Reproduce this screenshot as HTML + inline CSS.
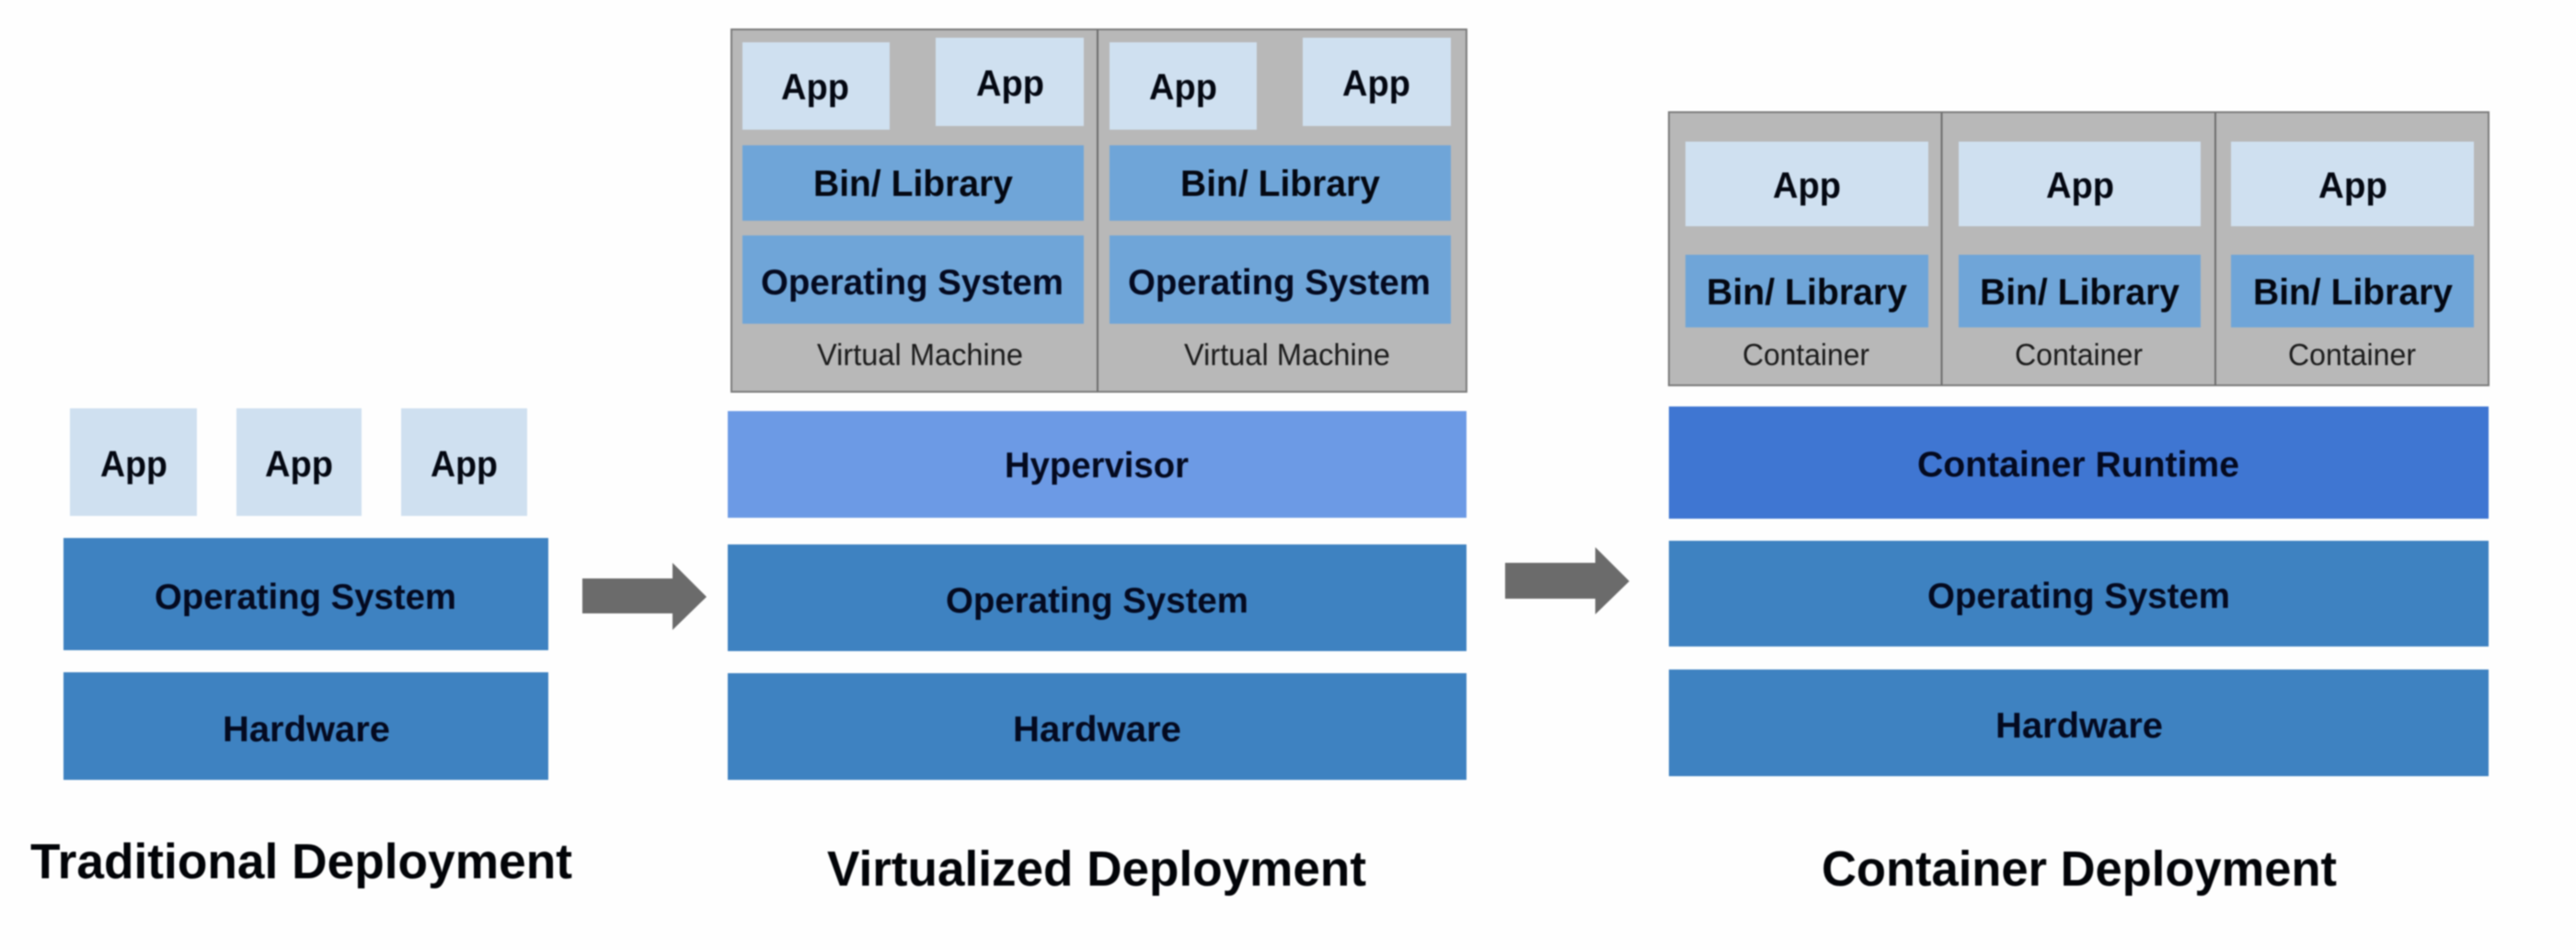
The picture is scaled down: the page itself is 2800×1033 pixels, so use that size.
<!DOCTYPE html>
<html lang="en">
<head>
<meta charset="utf-8">
<title>Deployment evolution</title>
<style>
html,body{margin:0;padding:0;background:#fefefe;width:2800px;height:1033px;overflow:hidden}
svg{display:block;filter:blur(.7px)}
text{font-family:"Liberation Sans",sans-serif;font-weight:700;fill:#040a20;font-size:39px}
.t{font-size:54px;fill:#020408}
.a{font-size:40px;fill:#040812}
.l{font-size:33px;font-weight:400;fill:#1c1c1c}
.app{fill:#cfe0f0}.bin{fill:#6fa5d8}.os{fill:#3e82c1}.box{fill:#b8b8b8;stroke:#7c7c7c;stroke-width:2}
.div{stroke:#6e6e6e;stroke-width:2}
</style>
</head>
<body>
<svg width="2800" height="1033" viewBox="0 0 2800 1033" xmlns="http://www.w3.org/2000/svg">
<rect width="2800" height="1033" fill="#fefefe"/>

<!-- Traditional -->
<rect class="app" x="76" y="444" width="138" height="117"/>
<rect class="app" x="257" y="444" width="136" height="117"/>
<rect class="app" x="436" y="444" width="137" height="117"/>
<text class="a" x="109" y="518" textLength="73" lengthAdjust="spacingAndGlyphs">App</text>
<text class="a" x="288" y="518" textLength="74" lengthAdjust="spacingAndGlyphs">App</text>
<text class="a" x="468" y="518" textLength="73" lengthAdjust="spacingAndGlyphs">App</text>
<rect class="os" x="69" y="585" width="527" height="122"/>
<text x="168" y="662" textLength="328" lengthAdjust="spacingAndGlyphs">Operating System</text>
<rect class="os" x="69" y="731" width="527" height="117"/>
<text x="242" y="806" textLength="182" lengthAdjust="spacingAndGlyphs">Hardware</text>
<text class="t" x="33" y="955" textLength="589" lengthAdjust="spacingAndGlyphs">Traditional Deployment</text>

<!-- Arrow 1 -->
<polygon points="633,629 731,629 731,612 768,649 731,685 731,667 633,667" fill="#6b6b6b"/>

<!-- Virtualized -->
<rect class="box" x="795" y="32" width="799" height="394"/>
<line class="div" x1="1193" y1="32" x2="1193" y2="426"/>
<rect class="app" x="807" y="46" width="160" height="95"/>
<rect class="app" x="1017" y="41" width="161" height="96"/>
<rect class="app" x="1206" y="46" width="160" height="95"/>
<rect class="app" x="1416" y="41" width="161" height="96"/>
<text class="a" x="849" y="108" textLength="74" lengthAdjust="spacingAndGlyphs">App</text>
<text class="a" x="1061" y="104" textLength="74" lengthAdjust="spacingAndGlyphs">App</text>
<text class="a" x="1249" y="108" textLength="74" lengthAdjust="spacingAndGlyphs">App</text>
<text class="a" x="1459" y="104" textLength="74" lengthAdjust="spacingAndGlyphs">App</text>
<rect class="bin" x="807" y="158" width="371" height="82"/>
<rect class="bin" x="1206" y="158" width="371" height="82"/>
<text class="a" x="884" y="213" textLength="217" lengthAdjust="spacingAndGlyphs">Bin/ Library</text>
<text class="a" x="1283" y="213" textLength="217" lengthAdjust="spacingAndGlyphs">Bin/ Library</text>
<rect class="bin" x="807" y="256" width="371" height="96"/>
<rect class="bin" x="1206" y="256" width="371" height="96"/>
<text x="827" y="320" textLength="329" lengthAdjust="spacingAndGlyphs">Operating System</text>
<text x="1226" y="320" textLength="329" lengthAdjust="spacingAndGlyphs">Operating System</text>
<text class="l" x="888" y="397" textLength="224" lengthAdjust="spacingAndGlyphs">Virtual Machine</text>
<text class="l" x="1287" y="397" textLength="224" lengthAdjust="spacingAndGlyphs">Virtual Machine</text>
<rect x="791" y="447" width="803" height="116" fill="#6c9ae5"/>
<text x="1092" y="519" textLength="200" lengthAdjust="spacingAndGlyphs">Hypervisor</text>
<rect class="os" x="791" y="592" width="803" height="116"/>
<text x="1028" y="666" textLength="329" lengthAdjust="spacingAndGlyphs">Operating System</text>
<rect class="os" x="791" y="732" width="803" height="116"/>
<text x="1101" y="806" textLength="183" lengthAdjust="spacingAndGlyphs">Hardware</text>
<text class="t" x="899" y="963" textLength="586" lengthAdjust="spacingAndGlyphs">Virtualized Deployment</text>

<!-- Arrow 2 -->
<polygon points="1636,612 1734,612 1734,595 1771,632 1734,668 1734,651 1636,651" fill="#6b6b6b"/>

<!-- Container -->
<rect class="box" x="1814" y="122" width="891" height="297"/>
<line class="div" x1="2110.5" y1="122" x2="2110.5" y2="419"/>
<line class="div" x1="2408" y1="122" x2="2408" y2="419"/>
<rect class="app" x="1832" y="154" width="264" height="92"/>
<rect class="app" x="2129" y="154" width="263" height="92"/>
<rect class="app" x="2425" y="154" width="264" height="92"/>
<text class="a" x="1927" y="215" textLength="74" lengthAdjust="spacingAndGlyphs">App</text>
<text class="a" x="2224" y="215" textLength="74" lengthAdjust="spacingAndGlyphs">App</text>
<text class="a" x="2520" y="215" textLength="75" lengthAdjust="spacingAndGlyphs">App</text>
<rect class="bin" x="1832" y="277" width="264" height="79"/>
<rect class="bin" x="2129" y="277" width="263" height="79"/>
<rect class="bin" x="2425" y="277" width="264" height="79"/>
<text class="a" x="1855" y="331" textLength="218" lengthAdjust="spacingAndGlyphs">Bin/ Library</text>
<text class="a" x="2152" y="331" textLength="217" lengthAdjust="spacingAndGlyphs">Bin/ Library</text>
<text class="a" x="2449" y="331" textLength="217" lengthAdjust="spacingAndGlyphs">Bin/ Library</text>
<text class="l" x="1894" y="397" textLength="138" lengthAdjust="spacingAndGlyphs">Container</text>
<text class="l" x="2190" y="397" textLength="139" lengthAdjust="spacingAndGlyphs">Container</text>
<text class="l" x="2487" y="397" textLength="139" lengthAdjust="spacingAndGlyphs">Container</text>
<rect x="1814" y="442" width="891" height="122" fill="#3f76d2"/>
<text x="2084" y="518" textLength="350" lengthAdjust="spacingAndGlyphs">Container Runtime</text>
<rect class="os" x="1814" y="588" width="891" height="115"/>
<text x="2095" y="661" textLength="329" lengthAdjust="spacingAndGlyphs">Operating System</text>
<rect class="os" x="1814" y="728" width="891" height="116"/>
<text x="2169" y="802" textLength="182" lengthAdjust="spacingAndGlyphs">Hardware</text>
<text class="t" x="1980" y="963" textLength="560" lengthAdjust="spacingAndGlyphs">Container Deployment</text>
</svg>
</body>
</html>
